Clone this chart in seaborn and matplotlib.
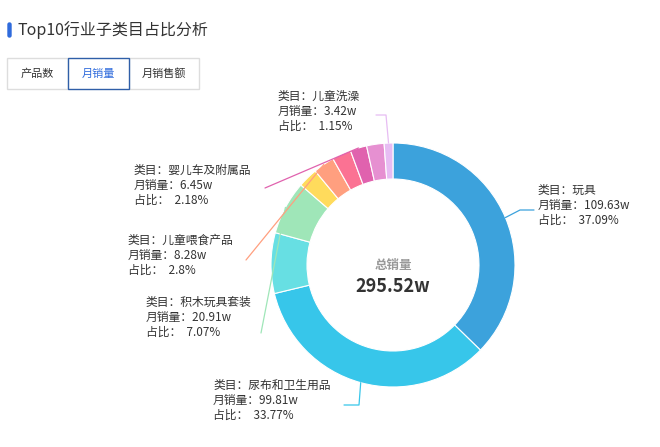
import numpy as np
import matplotlib.pyplot as plt
import seaborn as sns
from matplotlib.patches import FancyBboxPatch, Rectangle

sns.set_theme(style="white")
plt.rcParams['font.family'] = ['Noto Sans CJK SC', 'DejaVu Sans']

categories = ["玩具", "尿布和卫生用品", "其他1", "积木玩具套装", "其他2", "儿童喂食产品",
              "其他3", "婴儿车及附属品", "其他4", "儿童洗澡"]
sales = [109.63, 99.81, 23.6, 20.91, 7.7, 8.28, 7.4, 6.45, 6.8, 3.42]
shares = ["37.09%", "33.77%", "", "7.07%", "", "2.8%", "", "2.18%", "", "1.15%"]
colors = ["#3ca2dc", "#37c6ea", "#67dfe3", "#9fe6b8", "#ffdb5c", "#ff9f7f",
          "#fb7293", "#e062ae", "#e690d1", "#e7bcf3"]
total = "295.52w"
buttons = ["产品数", "月销量", "月销售额"]

W, H = 660, 447
fig = plt.figure(figsize=(6.6, 4.47), dpi=100)
ax = fig.add_axes([0, 0, 1, 1])

cx, cy, R = 393, H - 265, 122
wedges, _ = ax.pie(sales, colors=colors, startangle=90, counterclock=False,
                   radius=R, center=(cx, cy), frame=True,
                   wedgeprops=dict(width=36, edgecolor="white", linewidth=0.8))
ax.set_xlim(0, W)
ax.set_ylim(0, H)
ax.set_aspect("equal")
ax.axis("off")

# label: text left/top (px), elbow (px), end (px)
label_pos = {0: (538, 184, (520, 210), (534, 210)),
             1: (213, 379, (359, 405), (344, 405)),
             3: (146, 296, (261, 333), (261, 333)),
             5: (128, 234, (246, 260), (246, 260)),
             7: (134, 164, (265, 188), (265, 188)),
             9: (278, 90, (386, 115), (376, 115))}
for i, (tx, ty, (mx, my), (ex, ey)) in label_pos.items():
    w = wedges[i]
    ang = np.deg2rad((w.theta1 + w.theta2) / 2)
    sx, sy = cx + R * np.cos(ang), cy + R * np.sin(ang)
    ax.plot([sx, mx, ex], [sy, H - my, H - ey], color=colors[i], lw=0.9)
    txt = f"类目：{categories[i]}\n月销量：{sales[i]}w\n占比：  {shares[i]}"
    ax.text(tx, H - ty, txt, fontsize=8.5, color="#333333", va="top", ha="left",
            linespacing=1.2)

ax.text(cx, H - 265, "总销量", ha="center", va="center", fontsize=9,
        color="#999999", fontweight="bold")
ax.text(cx, H - 287, total, ha="center", va="center", fontsize=13,
        color="#333333", fontweight="bold")

# title and buttons
ax.add_patch(FancyBboxPatch((8, H - 37), 3, 14, boxstyle="round,pad=0,rounding_size=1.5",
                            color="#2f6bdc"))
ax.text(17, H - 30, "Top10行业子类目占比分析", fontsize=11.5, color="#333333", va="center")
bx = [7, 68, 129]
bw = [61, 61, 70]
for j, b in enumerate(buttons):
    sel = j == 1
    ax.add_patch(Rectangle((bx[j], H - 89), bw[j], 31, facecolor="white",
                           edgecolor="#2f5fa8" if sel else "#dddddd", lw=1, zorder=3 if sel else 2))
    ax.text(bx[j] + bw[j] / 2, H - 74, b, fontsize=8, ha="center", va="center",
            color="#2f6bdc" if sel else "#333333", zorder=4)

fig.savefig("out.png", dpi=100)
